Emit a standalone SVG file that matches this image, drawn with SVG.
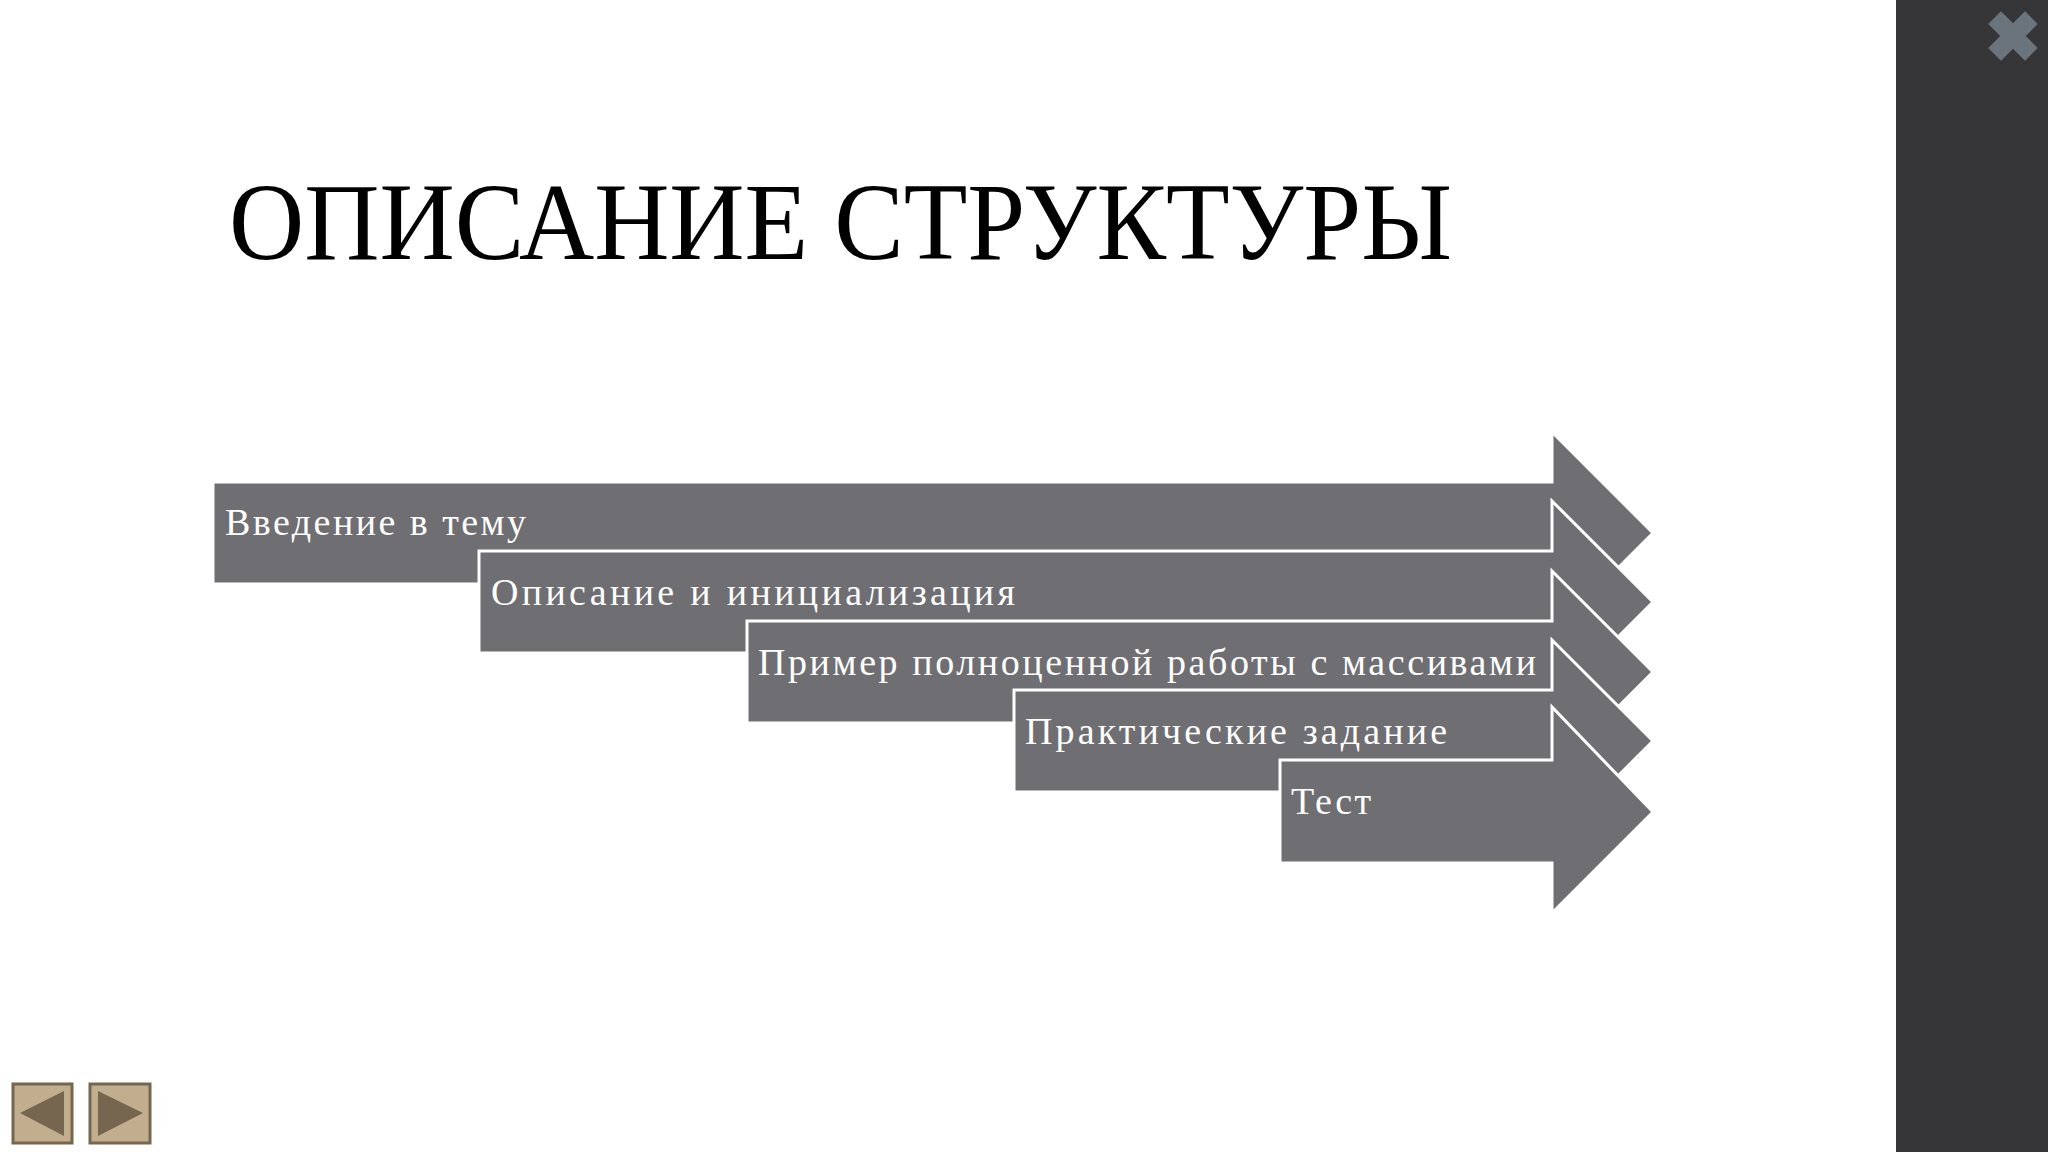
<svg xmlns="http://www.w3.org/2000/svg" width="2048" height="1152" viewBox="0 0 2048 1152">
<style>
.arr{fill:#6f6e72;stroke:#ffffff;stroke-width:3;stroke-linejoin:miter}
.lbl{font-family:"Liberation Serif","DejaVu Serif",serif;font-size:38px;fill:#ffffff}
.btn{fill:#c2ad8e;stroke:#756650;stroke-width:3}
.tri{fill:#76654f}
</style>
<rect width="2048" height="1152" fill="#ffffff"/>
<rect x="1896" y="0" width="152" height="1152" fill="#363638"/>
<g id="close" transform="translate(2013,36) rotate(45)" fill="#6b747c">
<rect x="-26" y="-9" width="52" height="18"/>
<rect x="-9" y="-26" width="18" height="52"/>
</g>
<text x="229" y="259" font-family="Liberation Serif,serif" font-size="110" fill="#000" textLength="1223" lengthAdjust="spacingAndGlyphs">ОПИСАНИЕ СТРУКТУРЫ</text>
<g id="connectors"></g>
<g id="n1"><path class="arr" d="M213 482H1552V432L1653 533L1552 634V584H213Z" stroke="none"/><text class="lbl" x="225" y="535" textLength="301">Введение в тему</text></g>
<g id="n2"><path class="arr" d="M479 551H1552V501L1653 602L1552 703V653H479Z"/><text class="lbl" x="491" y="605" textLength="524">Описание и инициализация</text></g>
<g id="n3"><path class="arr" d="M747 621H1552V571L1653 672L1552 773V723H747Z"/><text class="lbl" x="758" y="675" textLength="778">Пример полноценной работы с массивами</text></g>
<g id="n4"><path class="arr" d="M1014 690H1552V640L1653 741L1552 842V792H1014Z"/><text class="lbl" x="1025" y="744" textLength="422">Практические задание</text></g>
<g id="n5"><path class="arr" d="M1280 760H1552V707L1653 812L1552 913V863H1280Z"/><text class="lbl" x="1291" y="814" textLength="80">Тест</text></g>
<g id="prev"><rect class="btn" x="13" y="1084" width="59" height="59"/><path class="tri" d="M64 1091V1136L20 1113Z"/></g>
<g id="next"><rect class="btn" x="90" y="1084" width="60" height="59"/><path class="tri" d="M98 1091V1136L143 1113Z"/></g>
</svg>
